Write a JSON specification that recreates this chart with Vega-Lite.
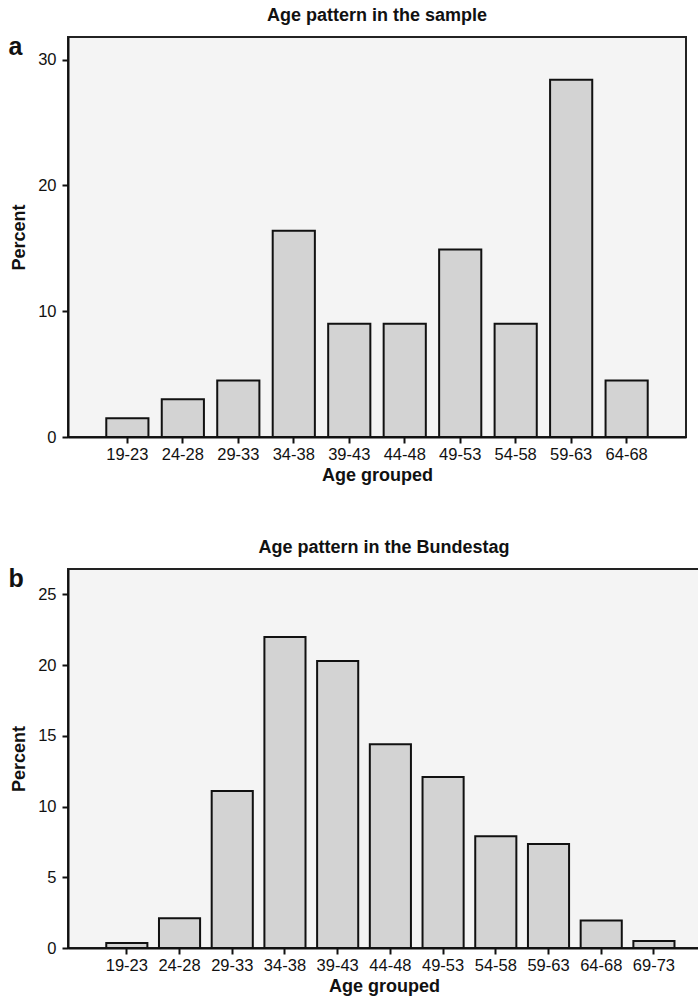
{
  "$schema": "https://vega.github.io/schema/vega-lite/v6.json",
  "padding": {"left": 7, "top": 6, "right": 0, "bottom": 0},
  "datasets": {
    "sample": [
      {"age": "19-23", "percent": 1.5},
      {"age": "24-28", "percent": 3.0},
      {"age": "29-33", "percent": 4.5},
      {"age": "34-38", "percent": 16.4},
      {"age": "39-43", "percent": 9.0},
      {"age": "44-48", "percent": 9.0},
      {"age": "49-53", "percent": 14.9},
      {"age": "54-58", "percent": 9.0},
      {"age": "59-63", "percent": 28.4},
      {"age": "64-68", "percent": 4.5}
    ],
    "bundestag": [
      {"age": "19-23", "percent": 0.35},
      {"age": "24-28", "percent": 2.1},
      {"age": "29-33", "percent": 11.1},
      {"age": "34-38", "percent": 22.0},
      {"age": "39-43", "percent": 20.3},
      {"age": "44-48", "percent": 14.4},
      {"age": "49-53", "percent": 12.1},
      {"age": "54-58", "percent": 7.9},
      {"age": "59-63", "percent": 7.35},
      {"age": "64-68", "percent": 1.95},
      {"age": "69-73", "percent": 0.5}
    ]
  },
  "vconcat": [
    {
      "title": {"text": "Age pattern in the sample", "fontSize": 18, "fontWeight": "bold", "offset": 9, "anchor": "middle", "font": "Liberation Sans", "color": "#111"},
      "width": 618,
      "height": 400,
      "data": {"name": "sample"},
      "layer": [
        {
          "mark": {"type": "bar", "fill": "#d3d3d3", "stroke": "#111", "strokeWidth": 2},
          "encoding": {
            "x": {"field": "age", "type": "ordinal", "sort": null,
                  "scale": {"paddingInner": 0.24, "paddingOuter": 0.69},
                  "axis": {"title": "Age grouped", "labelAngle": 0}},
            "y": {"field": "percent", "type": "quantitative",
                  "scale": {"domain": [0, 31.8], "nice": false},
                  "axis": {"title": "Percent", "values": [0, 10, 20, 30]}}
          }
        },
        {
          "mark": {"type": "bar", "opacity": 0},
          "encoding": {
            "x": {"field": "age", "type": "ordinal", "sort": null},
            "y": {"field": "percent", "type": "quantitative",
                  "axis": {"orient": "left", "title": "a", "labels": false, "ticks": false, "domain": false, "grid": false,
                           "titleAngle": 0, "titleFontSize": 25, "titleAlign": "left", "titleBaseline": "top",
                           "titleX": -60, "titleY": -3}}
          }
        }
      ],
      "resolve": {"axis": {"y": "independent"}}
    },
    {
      "title": {"text": "Age pattern in the Bundestag", "fontSize": 18, "fontWeight": "bold", "offset": 9, "anchor": "middle", "font": "Liberation Sans", "color": "#111"},
      "width": 632,
      "height": 379,
      "data": {"name": "bundestag"},
      "layer": [
        {
          "mark": {"type": "bar", "fill": "#d3d3d3", "stroke": "#111", "strokeWidth": 2},
          "encoding": {
            "x": {"field": "age", "type": "ordinal", "sort": null,
                  "scale": {"paddingInner": 0.22, "paddingOuter": 0.605, "align": 0.6},
                  "axis": {"title": "Age grouped", "labelAngle": 0}},
            "y": {"field": "percent", "type": "quantitative",
                  "scale": {"domain": [0, 26.8], "nice": false},
                  "axis": {"title": "Percent", "values": [0, 5, 10, 15, 20, 25]}}
          }
        },
        {
          "mark": {"type": "bar", "opacity": 0},
          "encoding": {
            "x": {"field": "age", "type": "ordinal", "sort": null},
            "y": {"field": "percent", "type": "quantitative",
                  "axis": {"orient": "left", "title": "b", "labels": false, "ticks": false, "domain": false, "grid": false,
                           "titleAngle": 0, "titleFontSize": 25, "titleAlign": "left", "titleBaseline": "top",
                           "titleX": -60, "titleY": -3}}
          }
        }
      ],
      "resolve": {"axis": {"y": "independent"}}
    }
  ],
  "spacing": 52,
  "config": {
    "font": "Liberation Sans",
    "background": "white",
    "view": {"stroke": "#222", "strokeWidth": 2, "fill": "#f4f4f4"},
    "axis": {
      "domainColor": "#111", "domainWidth": 2,
      "tickColor": "#111", "tickWidth": 2, "tickSize": 6,
      "labelColor": "#111", "labelFontSize": 16.5, "labelFont": "Liberation Sans",
      "titleColor": "#111", "titleFontSize": 18, "titleFontWeight": "bold", "titleFont": "Liberation Sans",
      "grid": false, "labelPadding": 6
    },
    "axisY": {"titlePadding": 9},
    "axisX": {"titlePadding": 4, "labelPadding": 3}
  }
}
